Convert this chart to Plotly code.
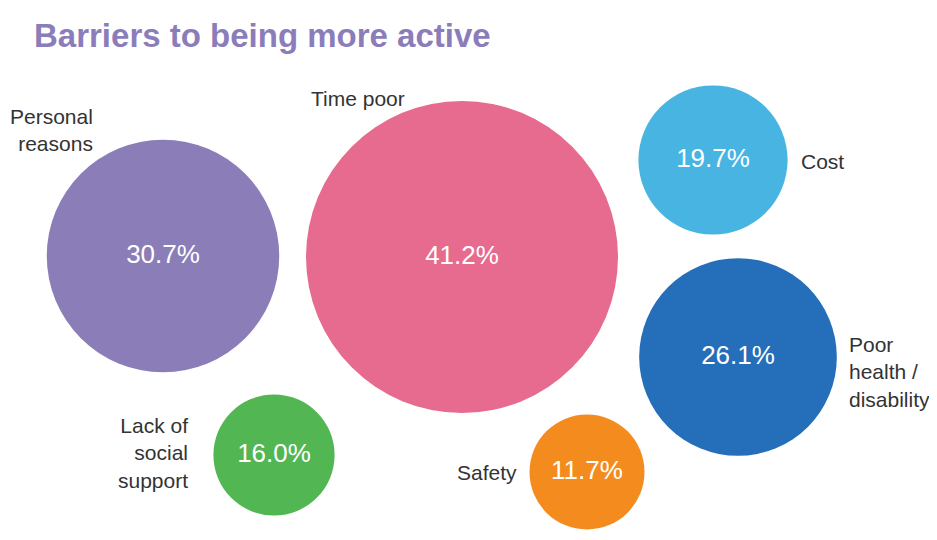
import plotly.graph_objects as go

# ---- data ----
categories = ["Personal<br>reasons", "Time poor", "Cost", "Poor<br>health /<br>disability",
              "Lack of<br>social<br>support", "Safety"]
values = [30.7, 41.2, 19.7, 26.1, 16.0, 11.7]

# ---- layout (page pixel coordinates) ----
bubble_x = [163, 462, 713, 738, 274, 587]
bubble_y = [256, 257, 160, 357, 455, 472]
colors = ["#8A7DB8", "#E76A8F", "#48B4E2", "#256EB9", "#52B653", "#F48B1E"]

label_x = [95, 309, 799, 847, 190, 519]
label_y = [130, 98, 161, 372, 453, 472]
label_anchor = ["right", "left", "left", "left", "right", "right"]

W, H = 937, 540
OFF = 8  # default page body margin
font = "Liberation Sans, Arial, sans-serif"

fig = go.Figure()
fig.add_trace(go.Scatter(
    x=bubble_x, y=bubble_y,
    mode="markers+text",
    text=[f"{v:.1f}%" for v in values],
    textposition="middle center",
    textfont=dict(family=font, size=26, color="white"),
    marker=dict(size=values, sizemode="diameter", sizeref=41.2 / 312, sizemin=57.5,
                color=colors, opacity=1, line=dict(width=0)),
    hoverinfo="skip",
    showlegend=False,
))

annotations = []
for cat, lx, ly, anc in zip(categories, label_x, label_y, label_anchor):
    annotations.append(dict(
        x=lx, y=ly, xref="x", yref="y", text=cat, showarrow=False,
        xanchor=anc, yanchor="middle", align=anc,
        font=dict(family=font, size=21, color="#333333"),
    ))
annotations.append(dict(
    x=32, y=35, xref="x", yref="y", text="<b>Barriers to being more active</b>",
    showarrow=False, xanchor="left", yanchor="middle",
    font=dict(family=font, size=33, color="#8B7DBA"),
))

fig.update_layout(
    width=W - OFF, height=H - OFF,
    margin=dict(l=0, r=0, t=0, b=0),
    paper_bgcolor="white", plot_bgcolor="white",
    xaxis=dict(range=[OFF, W], visible=False, fixedrange=True),
    yaxis=dict(range=[H, OFF], visible=False, fixedrange=True),
    annotations=annotations,
)

fig.write_html("out.html")
